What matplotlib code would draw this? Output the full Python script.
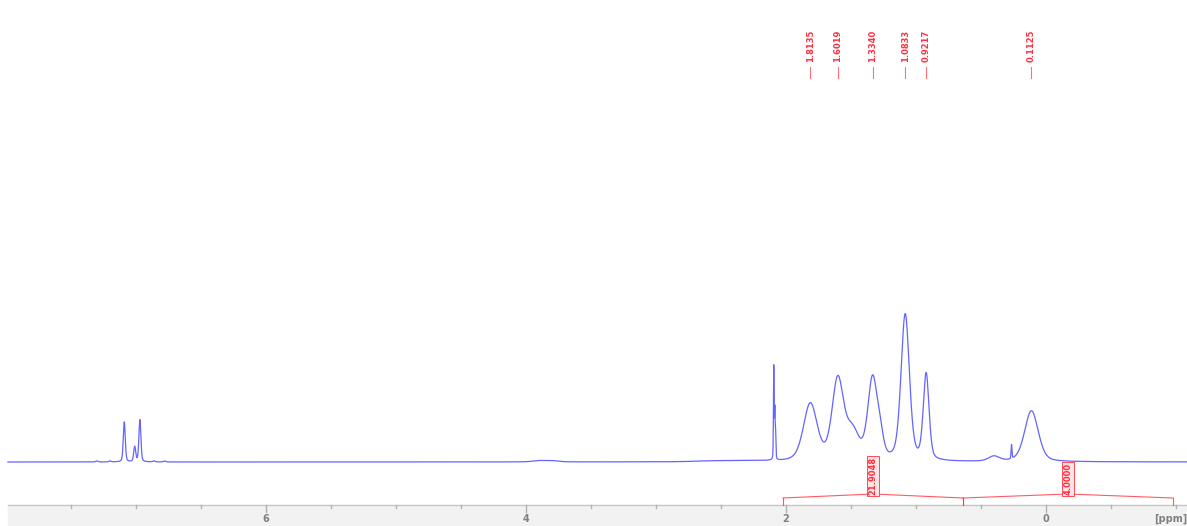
import numpy as np
import matplotlib
matplotlib.use("Agg")
import matplotlib.pyplot as plt

# Peak list: position [ppm], height, half width [ppm]
peak_ppm = [7.30, 7.20, 7.09, 7.01, 6.97, 6.86, 6.78,
            3.90, 3.80, 2.57, 2.30,
            2.094, 2.086, 2.080,
            1.813, 1.602, 1.49, 1.334, 1.275, 1.083, 0.922,
            0.40, 0.265, 0.112]
peak_height = [1, 1, 40, 15, 42, 1, 1,
               1.2, 1.2, 0.8, 1.0,
               93, 48, 25,
               57, 80, 28, 81, 18, 146, 86,
               5, 14, 51]
peak_width = [0.01, 0.01, 0.009, 0.009, 0.009, 0.01, 0.01,
              0.06, 0.06, 0.15, 0.15,
              0.003, 0.003, 0.003,
              0.062, 0.052, 0.06, 0.043, 0.03, 0.038, 0.026,
              0.05, 0.004, 0.062]

# Labels on top
label_ppm = [1.8135, 1.6019, 1.3340, 1.0833, 0.9217, 0.1125]

# Integrals
integral_ranges = [(2.023, 0.638), (0.638, -0.977)]
integral_values = ["21.9048", "4.0000"]

ppm = np.linspace(7.985, -1.09, 20000)
spec = np.zeros_like(ppm)
for p, h, w in zip(peak_ppm, peak_height, peak_width):
    lor = 1.0 / (1.0 + ((ppm - p) / w) ** 2)
    gau = np.exp(-np.log(2) * ((ppm - p) / w) ** 2)
    spec += h * (0.35 * lor + 0.65 * gau)

fig = plt.figure(figsize=(11.87, 5.26), dpi=100)
ax = fig.add_axes([0, 0, 1, 1])
ax.set_xlim(8.046, -1.0846)
ax.set_ylim(-64, 462)
ax.axis("off")

# gray axis band
ax.axhspan(-64, -43, xmin=8 / 1187, color="#f2f2f2", zorder=0)
ax.plot([7.985, -1.0846], [-43, -43], color="#c8c8c8", lw=1, zorder=1)
for t in np.arange(7.5, -1.01, -0.5):
    major = abs(t % 2) < 1e-6
    ax.plot([t, t], [-43, -50 if major else -46], color="#b0b0b0", lw=1, zorder=1)
    if major:
        ax.text(t, -57, "%d" % t, ha="center", va="center", fontsize=7,
                fontweight="bold", color="#808080")
ax.text(-1.0846, -57, "[ppm]", ha="right", va="center", fontsize=7,
        fontweight="bold", color="#808080")

# spectrum
ax.plot(ppm, spec, color="#6464ff", lw=0.9, zorder=3)

# peak labels
red = "#ff3040"
for p in label_ppm:
    ax.plot([p, p], [384, 395], color=red, lw=0.8, alpha=0.7)
    ax.text(p, 400, "%.4f" % p, rotation=90, ha="center", va="bottom",
            fontsize=6, fontweight="bold", color=red)

# integrals
for (a, b), val in zip(integral_ranges, integral_values):
    mid = (a + b) / 2
    ax.plot([a, a], [-43, -36], color=red, lw=0.8, alpha=0.8)
    ax.plot([b, b], [-43, -36], color=red, lw=0.8, alpha=0.8)
    ax.plot([a, mid, b], [-36, -32, -36], color=red, lw=0.8, alpha=0.8)
    ax.text(mid, -33, val, rotation=90, ha="center", va="bottom",
            fontsize=6, fontweight="bold", color=red,
            bbox=dict(boxstyle="square,pad=0.15", fc="#ffe4e4", ec=red, lw=0.6))

fig.savefig("out.png", dpi=100)
